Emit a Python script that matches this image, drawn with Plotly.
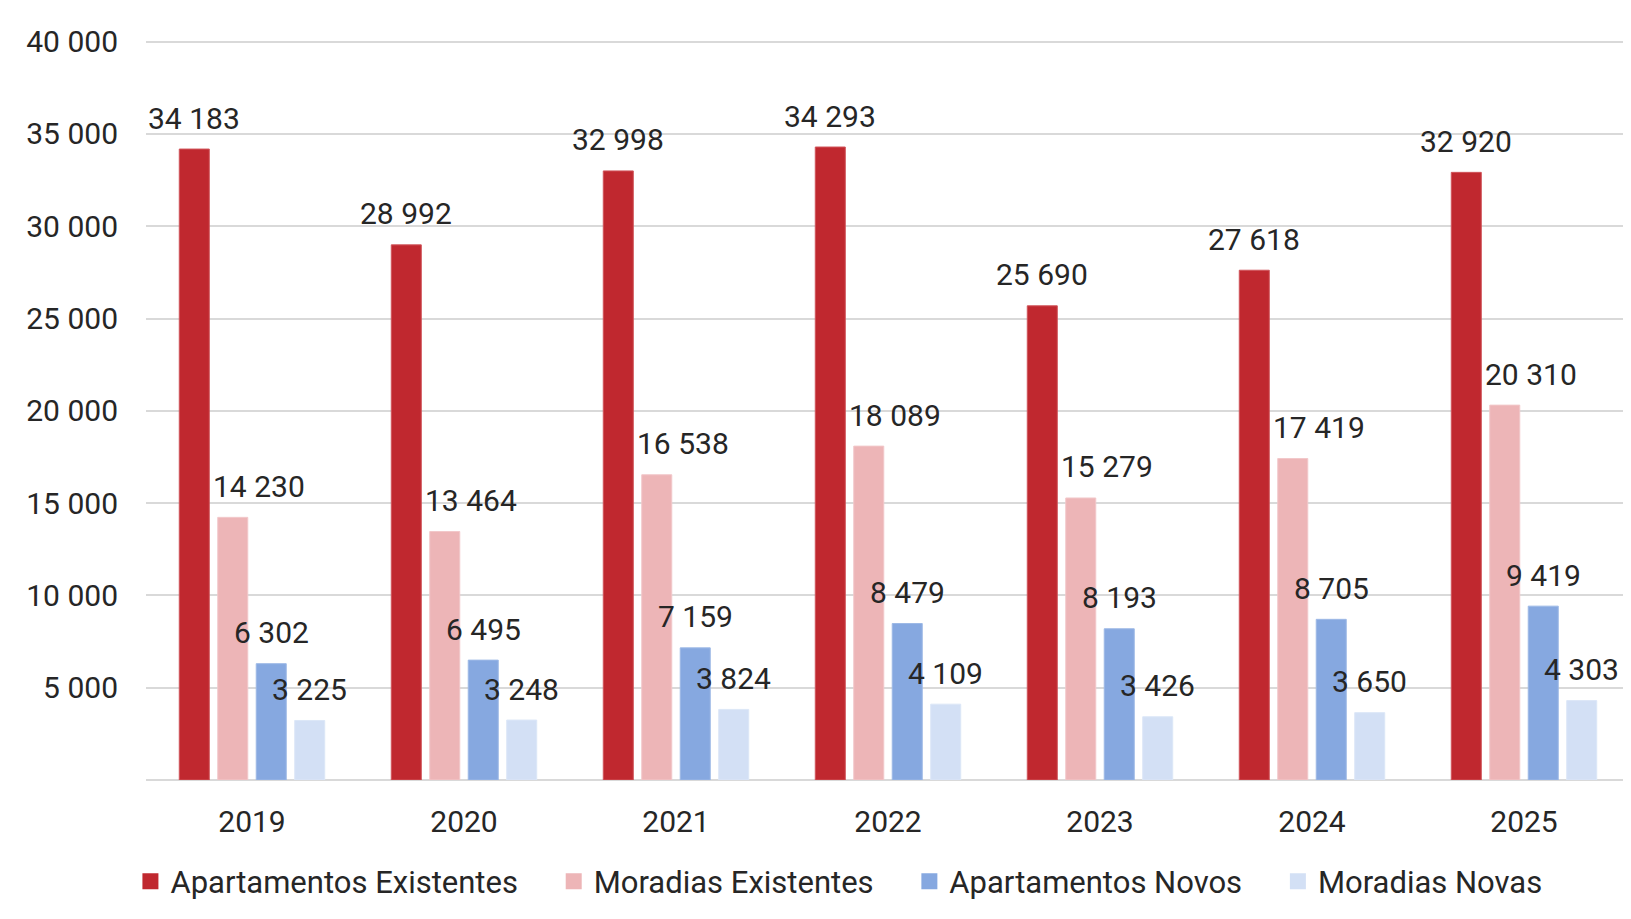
import plotly.graph_objects as go

years = ["2019", "2020", "2021", "2022", "2023", "2024", "2025"]
apart_exist = [34183, 28992, 32998, 34293, 25690, 27618, 32920]
morad_exist = [14230, 13464, 16538, 18089, 15279, 17419, 20310]
apart_novos = [6302, 6495, 7159, 8479, 8193, 8705, 9419]
morad_novas = [3225, 3248, 3824, 4109, 3426, 3650, 4303]

series_names = ["Apartamentos Existentes", "Moradias Existentes", "Apartamentos Novos", "Moradias Novas"]
series_values = [apart_exist, morad_exist, apart_novos, morad_novas]
colors = ["#C0282F", "#EDB5B7", "#86A8E0", "#D3E0F5"]
line_colors = ["#D0545A", "#F2C8CA", "#9DB9E6", "#DCE7F7"]

ytickvals = [5000, 10000, 15000, 20000, 25000, 30000, 35000, 40000]

FONT = "Roboto"
TXT = "#262626"
FS = 30

fig = go.Figure()
for name, vals, c, lc in zip(series_names, series_values, colors, line_colors):
    fig.add_trace(go.Bar(x=years, y=vals, name=name, marker=dict(color=c, line=dict(color=lc, width=1)),
                         showlegend=False, legendgroup=name))
pad = "\u00a0" * 4
for name, c in zip(series_names, colors):
    fig.add_trace(go.Scatter(x=[years[0]], y=[None], mode="markers", name=name + pad, legendgroup=name,
                             marker=dict(symbol="square", size=17, color=c), hoverinfo="skip"))

# data labels (x given as category index)
slot = 212 * (1 - 0.274) / 4
label_shift = [0, 26, 0, 0]
for i, vals in enumerate(series_values):
    for j, v in enumerate(vals):
        fig.add_annotation(x=j, y=v, text=f"{v:,}".replace(",", " "), showarrow=False,
                           xshift=(i - 1.5) * slot + label_shift[i], yshift=31, yanchor="middle",
                           font=dict(family=FONT, size=FS, color=TXT))

fig.update_layout(
    width=1623, height=911,
    margin=dict(l=138, r=1, t=30, b=139, autoexpand=False),
    paper_bgcolor="white", plot_bgcolor="white",
    barmode="group", bargap=0.274, bargroupgap=0.22,
    font=dict(family=FONT, size=FS, color=TXT),
    legend=dict(orientation="h", x=-0.0105, xanchor="left", y=-0.1368, yanchor="middle",
                font=dict(family=FONT, size=31, color=TXT), bgcolor="rgba(0,0,0,0)"),
    showlegend=True,
)
fig.update_xaxes(type="category", categoryorder="array", categoryarray=years, range=[-0.5, 6.5],
                 showgrid=False, ticks="", ticklabelstandoff=21,
                 tickfont=dict(family=FONT, size=FS, color=TXT), showline=False)
fig.update_yaxes(range=[0, 40200], tickvals=ytickvals,
                 ticktext=[f"{v:,}".replace(",", " ") for v in ytickvals],
                 showgrid=True, gridcolor="#D9D9D9", gridwidth=2,
                 zeroline=True, zerolinecolor="#D9D9D9", zerolinewidth=2,
                 ticks="", ticklabelstandoff=27, tickfont=dict(family=FONT, size=FS, color=TXT))

fig.write_html("out.html")
